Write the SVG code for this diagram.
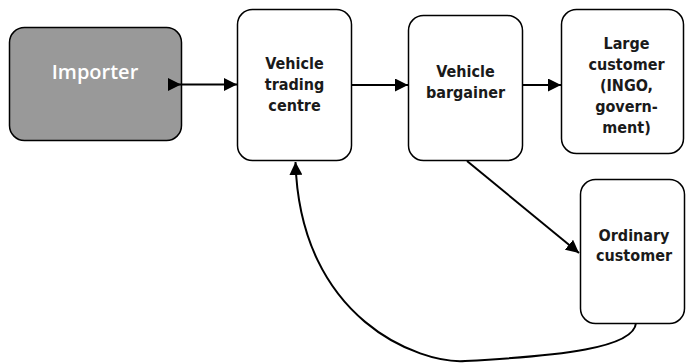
<svg xmlns="http://www.w3.org/2000/svg" width="686" height="363" viewBox="0 0 686 363">
<style>
.box{fill:#ffffff;stroke:#000;stroke-width:1.5}
.imp{fill:#999999;stroke:#000;stroke-width:1.5}
.lbl{font-family:"DejaVu Sans Condensed","DejaVu Sans",sans-serif;font-weight:bold;font-size:16px;fill:#1a1a1a;text-anchor:middle}
.ilbl{font-family:"Open Sans","Noto Sans",sans-serif;font-weight:600;font-size:20px;fill:#ffffff;text-anchor:middle}
.edge{fill:none;stroke:#000;stroke-width:2}
</style>
<defs>
<marker id="ah" viewBox="0 0 10 10" refX="10" refY="5" markerWidth="6.5" markerHeight="6.5" markerUnits="strokeWidth" orient="auto">
<path d="M0,0 L10,5 L0,10 z" fill="#000"/>
</marker>
<marker id="as" viewBox="0 0 10 10" refX="0" refY="5" markerWidth="6.5" markerHeight="6.5" markerUnits="strokeWidth" orient="auto">
<path d="M0,0 L10,5 L0,10 z" fill="#000"/>
</marker>
</defs>
<g id="importer">
<rect class="imp" x="9.5" y="27.5" width="172" height="113" rx="15"/>
<text class="ilbl" x="95" y="79">Importer</text>
</g>
<g id="trading-centre">
<rect class="box" x="237.5" y="9.5" width="114" height="151" rx="15"/>
<text class="lbl" x="294.5" y="69">Vehicle</text>
<text class="lbl" x="294.5" y="90">trading</text>
<text class="lbl" x="294.5" y="111">centre</text>
</g>
<g id="bargainer">
<rect class="box" x="408.5" y="15.5" width="114" height="145" rx="15"/>
<text class="lbl" x="465.5" y="77">Vehicle</text>
<text class="lbl" x="465.5" y="98">bargainer</text>
</g>
<g id="large-customer">
<rect class="box" x="561.5" y="9.5" width="122" height="144" rx="15"/>
<text class="lbl" x="626.5" y="49">Large</text>
<text class="lbl" x="626.5" y="70">customer</text>
<text class="lbl" x="626.5" y="91">(INGO,</text>
<text class="lbl" x="626.5" y="112">govern-</text>
<text class="lbl" x="626.5" y="133">ment)</text>
</g>
<g id="ordinary-customer">
<rect class="box" x="580.5" y="179.5" width="104" height="144" rx="15"/>
<text class="lbl" x="634" y="241">Ordinary</text>
<text class="lbl" x="634" y="261">customer</text>
</g>
<g id="connectors">
<line class="edge" x1="168" y1="84.5" x2="237" y2="84.5" marker-start="url(#as)" marker-end="url(#ah)"/>
<line class="edge" x1="352" y1="85" x2="408" y2="85" marker-end="url(#ah)"/>
<line class="edge" x1="523" y1="85" x2="561" y2="85" marker-end="url(#ah)"/>
<line class="edge" x1="467" y1="161" x2="579" y2="253" marker-end="url(#ah)"/>
<path class="edge" d="M636,323 C634,348 560,356 465,361 C420,364 300,320 295.5,162" marker-end="url(#ah)"/>
</g>
</svg>
